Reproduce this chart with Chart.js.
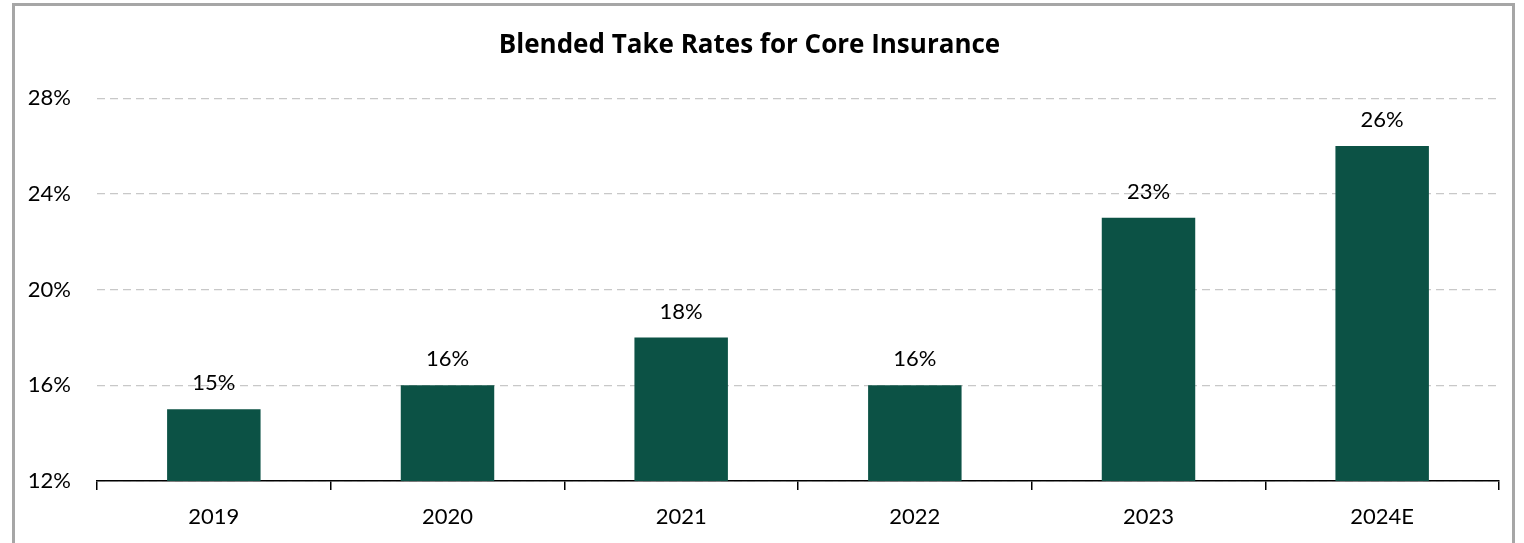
<!DOCTYPE html>
<html>
<head>
<meta charset="utf-8">
<script src="https://cdn.jsdelivr.net/npm/chart.js@4/dist/chart.umd.min.js"></script>
<style>
  html, body { margin: 0; padding: 0; background: #fff; }
  #wrap { position: relative; width: 1524px; height: 543px; overflow: hidden; }
  #frame { position: absolute; left: 12px; top: 3px; width: 1503px; height: 600px; border: 3px solid #a6a6a6; box-sizing: border-box; }
  #c { position: absolute; left: 0; top: 0; }
</style>
</head>
<body>
<div id="wrap">
  <div id="frame"></div>
  <canvas id="c" width="1524" height="543"></canvas>
</div>
<script>
const categories = ["2019", "2020", "2021", "2022", "2023", "2024E"];
const takeRates = [15, 16, 18, 16, 23, 26];
const yTicks = [12, 16, 20, 24, 28];
const titleText = "Blended Take Rates for Core Insurance";

const FONT = "Lato, 'Open Sans', sans-serif";
const TITLE_FONT = "'Open Sans', Lato, sans-serif";

const labelPlugin = {
  id: 'barLabels',
  afterDatasetsDraw(chart) {
    const ctx = chart.ctx;
    const meta = chart.getDatasetMeta(0);
    ctx.save();
    ctx.font = "22px " + FONT;
    ctx.fillStyle = "#000";
    ctx.textAlign = "center";
    ctx.textBaseline = "middle";
    meta.data.forEach((bar, i) => {
      ctx.fillText(takeRates[i] + "%", bar.x, bar.y - 26);
    });
    ctx.restore();
  }
};

new Chart(document.getElementById('c'), {
  type: 'bar',
  data: {
    labels: categories,
    datasets: [{
      data: takeRates,
      backgroundColor: '#0c5245',
      borderWidth: 0,
      barPercentage: 1,
      categoryPercentage: 0.4
    }]
  },
  options: {
    responsive: false,
    animation: false,
    layout: { padding: { left: 0, right: 25, top: 0, bottom: 0 } },
    plugins: {
      legend: { display: false },
      tooltip: { enabled: false },
      title: {
        display: true,
        text: titleText,
        color: '#000',
        font: { family: TITLE_FONT, size: 26, weight: 'bold' },
        padding: { top: 30, bottom: 37 }
      }
    },
    scales: {
      x: {
        grid: { display: true, drawOnChartArea: false, drawTicks: true, tickLength: 9, offset: true, color: '#000', lineWidth: 1.5 },
        border: { display: true, color: '#000', width: 1.5 },
        ticks: { color: '#000', font: { family: FONT, size: 22 }, padding: 14 },
        afterFit(s) { s.height = 62; }
      },
      y: {
        min: 12, max: 28,
        afterBuildTicks(s) { s.ticks = yTicks.map(v => ({ value: v })); },
        grid: { color: '#c8c8c8', lineWidth: 1.3, drawTicks: false },
        border: { display: false, dash: [8, 5] },
        ticks: { color: '#000', font: { family: FONT, size: 22 }, padding: 26, callback: v => v + '%' },
        afterFit(s) { s.width = 97; }
      }
    }
  },
  plugins: [labelPlugin]
});
</script>
</body>
</html>
